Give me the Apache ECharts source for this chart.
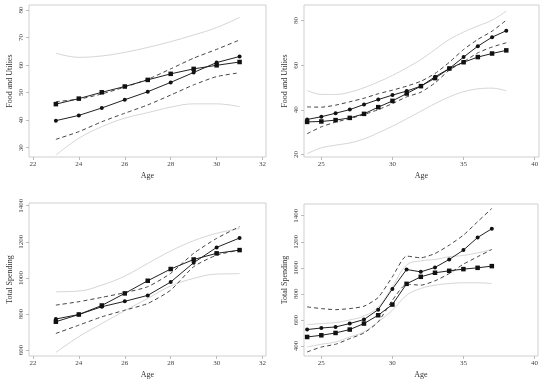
<!DOCTYPE html>
<html><head><meta charset="utf-8">
<script src="https://cdn.jsdelivr.net/npm/echarts@6/dist/echarts.min.js"></script>
<style>html,body{margin:0;padding:0;background:#fff}#c{width:550px;height:381px}</style>
</head><body><div id="c"></div>
<script>
// ---- data ----
const ages1 = [23,24,25,26,27,28,29,30,31];
const p1_a  = [45.8,47.8,50.1,52.2,54.6,56.8,58.6,59.9,61.1];
const p1_b  = [39.8,41.7,44.4,47.4,50.3,53.7,57.3,60.9,63.1];
const p1_du = [46.7,47.6,49.5,52.0,54.8,58.6,62.5,65.7,69.1];
const p1_dl = [33.0,35.8,39.4,42.5,45.5,49.1,52.8,55.8,57.2];
const p1_gu = [64.3,62.8,63.3,64.6,66.4,68.5,70.9,73.6,77.3];
const p1_gl = [27.3,33.4,37.6,40.7,42.7,44.7,45.9,45.9,44.9];

const ages2 = [24,25,26,27,28,29,30,31,32,33,34,35,36,37,38];
const p2_a  = [35.7,36.9,38.5,40.1,42.4,44.6,46.6,48.4,50.6,54.8,58.5,63.6,68.5,72.5,75.4];
const p2_b  = [34.6,34.8,35.4,36.4,38.2,41.2,44.0,47.3,50.6,54.2,58.5,61.3,63.6,65.2,66.6];
const p2_du = [41.3,41.2,42.1,43.6,45.2,47.2,48.8,50.6,52.8,56.3,61.3,67.0,71.5,75.2,80.1];
const p2_dl = [29.3,32.4,34.5,36.1,37.9,40.1,42.8,45.8,47.9,52.1,57.8,61.5,65.5,68.1,70.0];
const p2_gu = [48.7,46.9,46.9,47.9,49.9,52.5,55.4,58.8,62.5,67.0,71.5,74.8,77.5,80.1,84.2];
const p2_gl = [20.4,23.0,24.2,25.2,27.0,29.7,32.7,36.0,39.4,42.8,45.8,48.1,49.4,49.7,48.5];

const ages3 = [23,24,25,26,27,28,29,30,31];
const p3_a  = [757,797,847,914,984,1049,1102,1136,1154];
const p3_b  = [772,797,840,870,903,977,1084,1169,1221];
const p3_du = [849,868,892,918,951,1025,1136,1219,1284];
const p3_dl = [692,738,784,821,858,932,1062,1126,1154];
const p3_gu = [923,927,960,1010,1080,1149,1206,1247,1274];
const p3_gl = [587,674,747,818,886,955,997,1021,1023];

const ages4 = [24,25,26,27,28,29,30,31,32,33,34,35,36,37];
const p4_a  = [526,538,546,572,603,679,838,987,969,1003,1064,1136,1233,1300];
const p4_b  = [469,482,500,526,572,636,718,877,931,962,977,990,1000,1013];
const p4_du = [700,687,679,687,705,772,931,1090,1077,1110,1174,1251,1354,1456];
const p4_dl = [354,392,413,456,500,585,751,874,867,900,956,1028,1085,1141];
const p4_gu = [564,572,580,600,630,700,854,1021,1054,1064,1085,1095,1115,1141];
const p4_gl = [392,413,431,469,508,585,674,790,841,867,879,885,885,879];

const xTicksL = [22,24,26,28,30,32];
const xTicksR = [25,30,35,40];
const yTicks1 = [30,40,50,60,70,80];
const yTicks2 = [20,40,60,80];
const yTicks3 = [600,800,1000,1200,1400];
const yTicks4 = [400,600,800,1000,1200,1400];

const yName1 = 'Food and Utilies';
const yName3 = 'Total Spending';
const xName = 'Age';

// ---- build ----
const FONT = 'Liberation Serif';
const pairs = (xs, ys) => xs.map((x, i) => [x, ys[i]]);
const plain = v => String(v);

const grids = [
  {left: 29, top: 5, width: 237, height: 152},
  {left: 304, top: 5, width: 235, height: 152},
  {left: 29, top: 203, width: 237, height: 153},
  {left: 304, top: 204, width: 234, height: 152}
].map(g => Object.assign(g, {show: true, borderColor: '#cfcfcf', borderWidth: 1, backgroundColor: 'transparent'}));

function xAx(i, min, max, ticks) {
  return {
    type: 'value', gridIndex: i, min, max,
    name: xName, nameLocation: 'middle', nameGap: 15,
    nameTextStyle: {fontFamily: FONT, fontSize: 8, color: '#333'},
    axisLine: {show: false},
    splitLine: {show: false},
    axisTick: {show: true, length: 3, customValues: ticks, lineStyle: {color: '#bbb'}},
    axisLabel: {customValues: ticks, formatter: plain, fontFamily: FONT, fontSize: 7, color: '#444', margin: 4}
  };
}
function yAx(i, min, max, ticks, name) {
  return {
    type: 'value', gridIndex: i, min, max,
    name, nameLocation: 'middle', nameGap: 15,
    nameTextStyle: {fontFamily: FONT, fontSize: 8, color: '#333'},
    axisLine: {show: false},
    splitLine: {show: false},
    axisTick: {show: true, length: 3, customValues: ticks, lineStyle: {color: '#bbb'}},
    axisLabel: {customValues: ticks, formatter: plain, rotate: 90, fontFamily: FONT, fontSize: 7, color: '#444', margin: 4}
  };
}

const xAxes = [
  xAx(0, 21.83, 32.15, xTicksL),
  xAx(1, 23.78, 40.3, xTicksR),
  xAx(2, 21.83, 32.15, xTicksL),
  xAx(3, 23.78, 40.25, xTicksR)
];
const yAxes = [
  yAx(0, 26.6, 81.8, yTicks1, yName1),
  yAx(1, 18.9, 86.9, yTicks2, yName1),
  yAx(2, 567, 1415, yTicks3, yName3),
  yAx(3, 323, 1490, yTicks4, yName3)
];

const panels = [
  [ages1, p1_a, p1_b, p1_du, p1_dl, p1_gu, p1_gl, ['rect', 'circle']],
  [ages2, p2_a, p2_b, p2_du, p2_dl, p2_gu, p2_gl, ['circle', 'rect']],
  [ages3, p3_a, p3_b, p3_du, p3_dl, p3_gu, p3_gl, ['rect', 'circle']],
  [ages4, p4_a, p4_b, p4_du, p4_dl, p4_gu, p4_gl, ['circle', 'rect']]
];

const series = [];
panels.forEach((p, i) => {
  const [xs, a, b, du, dl, gu, gl, sym] = p;
  const base = {type: 'line', xAxisIndex: i, yAxisIndex: i, animation: false, silent: true};
  [gu, gl].forEach(d => series.push(Object.assign({}, base, {
    data: pairs(xs, d), smooth: 0.4, showSymbol: false,
    lineStyle: {color: '#d6d6d6', width: 1}
  })));
  [du, dl].forEach(d => series.push(Object.assign({}, base, {
    data: pairs(xs, d), smooth: 0.2, showSymbol: false,
    lineStyle: {color: '#444', width: 1, type: [4, 3]}
  })));
  series.push(Object.assign({}, base, {
    data: pairs(xs, a), symbol: sym[0], symbolSize: sym[0] === 'rect' ? 4.5 : 4,
    itemStyle: {color: '#111'}, lineStyle: {color: '#222', width: 1}
  }));
  series.push(Object.assign({}, base, {
    data: pairs(xs, b), symbol: sym[1], symbolSize: sym[1] === 'rect' ? 4.5 : 4,
    itemStyle: {color: '#111'}, lineStyle: {color: '#222', width: 1}
  }));
});

const chart = echarts.init(document.getElementById('c'), null, {renderer: 'canvas'});
chart.setOption({
  backgroundColor: '#fff',
  animation: false,
  grid: grids, xAxis: xAxes, yAxis: yAxes, series
});
</script></body></html>
